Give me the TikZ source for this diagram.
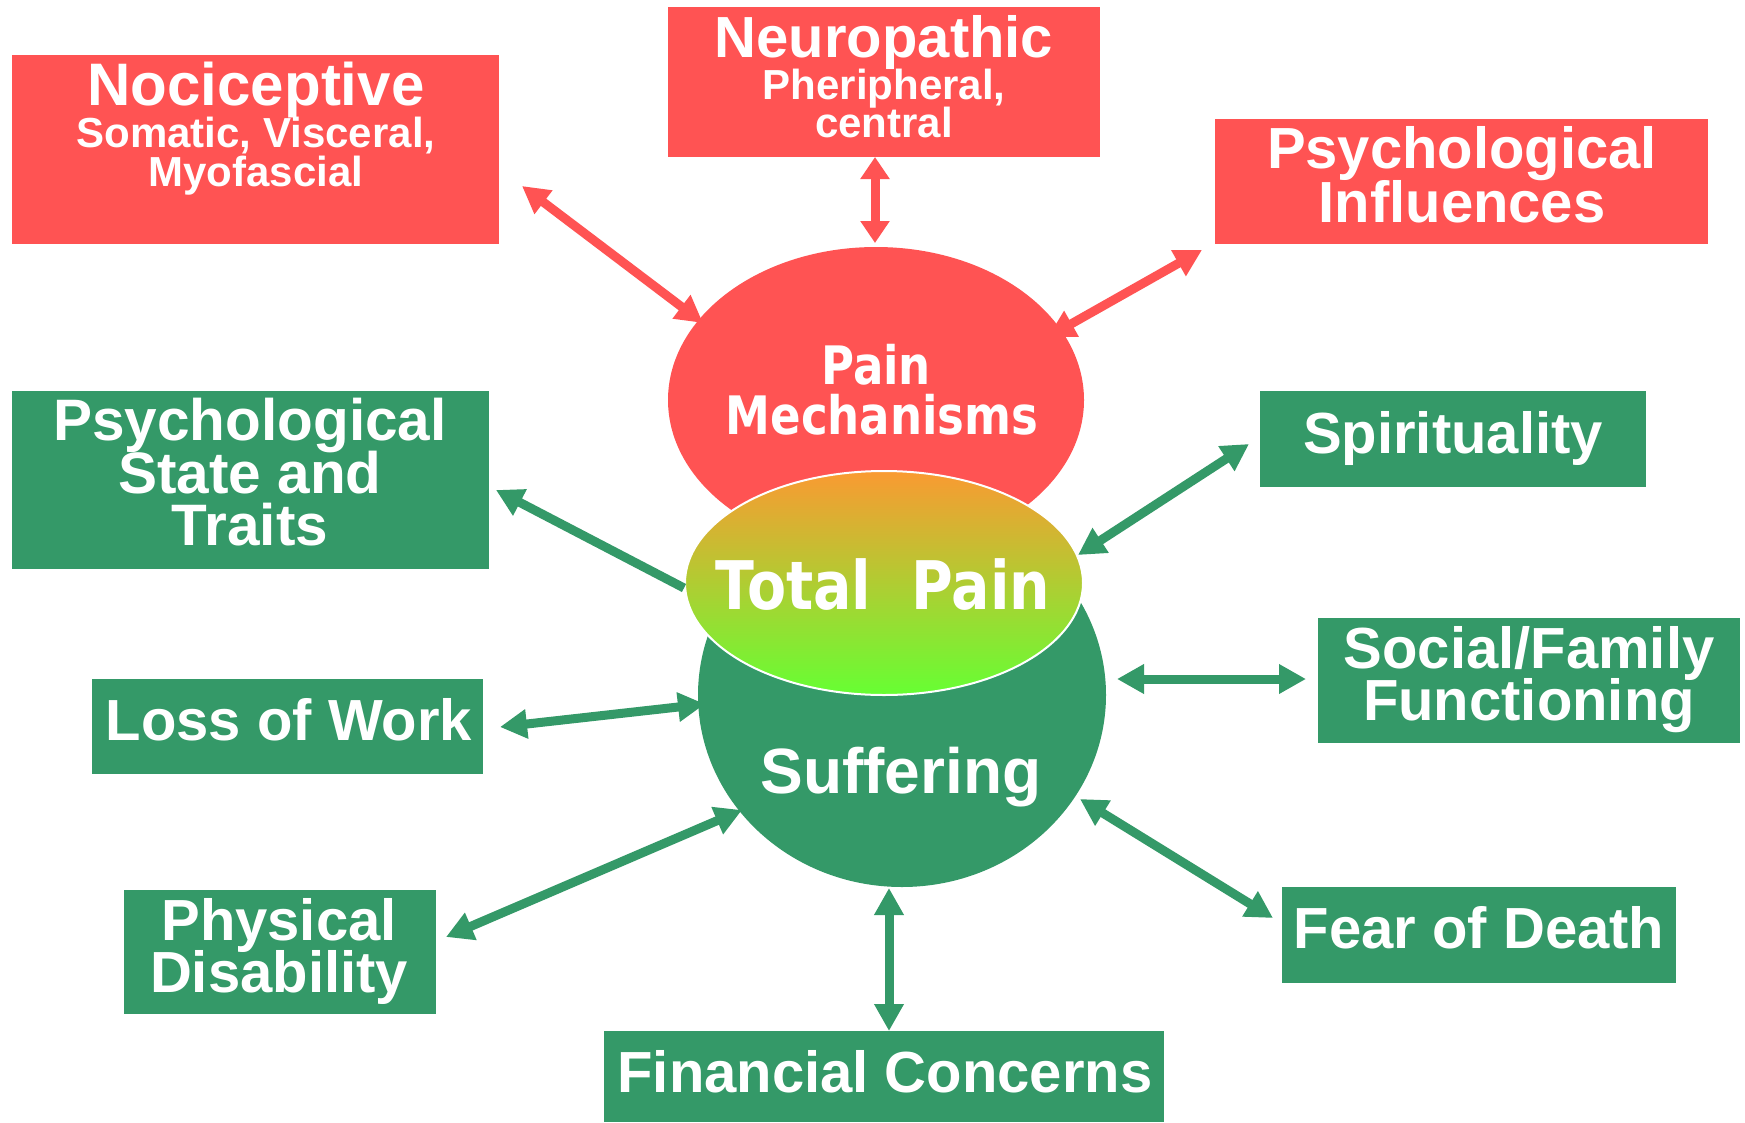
\documentclass[tikz,border=0pt]{standalone}
\usepackage{fontspec}
\usetikzlibrary{arrows.meta,shapes.geometric}
\newfontfamily\arb{Liberation Sans}
\newfontfamily\tah{DejaVu Sans}[FakeStretch=0.85]
\newcommand\pxsize[1]{\fontsize{#1}{#1}\selectfont}
\definecolor{pred}{RGB}{255,83,83}
\definecolor{pgreen}{RGB}{52,153,104}
\definecolor{porange}{RGB}{250,154,50}
\definecolor{pmid}{RGB}{212,196,50}
\definecolor{plime}{RGB}{102,255,51}
\begin{document}
\begin{tikzpicture}[x=1pt,y=-1pt,
  redbox/.style={fill=pred,draw=none,inner sep=0pt,rectangle},
  greenbox/.style={fill=pgreen,draw=none,inner sep=0pt,rectangle},
  lbl/.style={anchor=base,text=white,inner sep=0pt},
  rarrow/.style={draw=pred,line width=9pt,{Triangle[length=27pt,width=28pt]}-{Triangle[length=27pt,width=28pt]}},
  garrow/.style={draw=pgreen,line width=9pt,{Triangle[length=27pt,width=28pt]}-{Triangle[length=27pt,width=28pt]}},
  garrowone/.style={draw=pgreen,line width=9pt,-{Triangle[length=27pt,width=28pt]}}]
\fill[white] (0,0) rectangle (1745,1122);
\useasboundingbox (0,0) rectangle (1745,1122);

% ellipses
\node[ellipse,fill=pred,inner sep=0pt,minimum width=416pt,minimum height=306pt] (pm) at (876,400) {};
\node[ellipse,fill=pgreen,inner sep=0pt,minimum width=408pt,minimum height=384pt] (suf) at (902,695) {};
\node[ellipse,top color=porange,middle color=pmid,bottom color=plime,draw=white,line width=2pt,inner sep=0pt,minimum width=398pt,minimum height=224pt] (tp) at (884,583) {};

% boxes
\node[redbox,minimum width=487pt,minimum height=189pt] (noci) at (255.5,149.5) {};
\node[redbox,minimum width=432pt,minimum height=150pt] (neuro) at (884,82) {};
\node[redbox,minimum width=493pt,minimum height=125pt] (psyi) at (1461.5,181.5) {};
\node[greenbox,minimum width=477pt,minimum height=178pt] (psys) at (250.5,480) {};
\node[greenbox,minimum width=391pt,minimum height=95pt] (loss) at (287.5,726.5) {};
\node[greenbox,minimum width=312pt,minimum height=124pt] (phys) at (280,952) {};
\node[greenbox,minimum width=560pt,minimum height=91pt] (fin) at (884,1076.5) {};
\node[greenbox,minimum width=394pt,minimum height=96pt] (fear) at (1479,935) {};
\node[greenbox,minimum width=422pt,minimum height=125pt] (soc) at (1529,680.5) {};
\node[greenbox,minimum width=386pt,minimum height=96pt] (spir) at (1453,439) {};

% texts
\node[lbl,font={\arb\bfseries\pxsize{60}}] (nocit1) at (256,105) {Nociceptive};
\node[lbl,font={\arb\bfseries\pxsize{42}}] (nocit2) at (256,147) {Somatic, Visceral,};
\node[lbl,font={\arb\bfseries\pxsize{42}}] (nocit3) at (256,186) {Myofascial};
\node[lbl,font={\arb\bfseries\pxsize{58}}] (neurot1) at (884,57) {Neuropathic};
\node[lbl,font={\arb\bfseries\pxsize{42}}] (neurot2) at (884,99) {Pheripheral,};
\node[lbl,font={\arb\bfseries\pxsize{42}}] (neurot3) at (884,137) {central};
\node[lbl,font={\arb\bfseries\pxsize{58}}] (psyit1) at (1462,168) {Psychological};
\node[lbl,font={\arb\bfseries\pxsize{58}}] (psyit2) at (1462,222) {Influences};
\node[lbl,font={\arb\bfseries\pxsize{58.5}}] (psyst1) at (250,440) {Psychological};
\node[lbl,font={\arb\bfseries\pxsize{58.5}}] (psyst2) at (250,493) {State and};
\node[lbl,font={\arb\bfseries\pxsize{58.5}}] (psyst3) at (250,545) {Traits};
\node[lbl,font={\arb\bfseries\pxsize{58}}] (losst) at (289,740) {Loss of Work};
\node[lbl,font={\arb\bfseries\pxsize{58}}] (physt1) at (279,940) {Physical};
\node[lbl,font={\arb\bfseries\pxsize{58}}] (physt2) at (279,992) {Disability};
\node[lbl,font={\arb\bfseries\pxsize{58}}] (fint) at (885,1092) {Financial Concerns};
\node[lbl,font={\arb\bfseries\pxsize{58}}] (feart) at (1479,948) {Fear of Death};
\node[lbl,font={\arb\bfseries\pxsize{58}}] (soct1) at (1529,668) {Social/Family};
\node[lbl,font={\arb\bfseries\pxsize{58}}] (soct2) at (1529,720) {Functioning};
\node[lbl,font={\arb\bfseries\pxsize{58}}] (spirt) at (1453,453) {Spirituality};
\node[lbl,font={\tah\bfseries\pxsize{53}}] (pmt1) at (876,384) {Pain};
\node[lbl,font={\tah\bfseries\pxsize{53}}] (pmt2) at (882,434) {Mechanisms};
\node[lbl,font={\tah\bfseries\pxsize{67}}] (tpt) at (883,609) {Total\hspace{0.6em}Pain};
\node[lbl,font={\arb\bfseries\pxsize{64}}] (suft) at (901,793) {Suffering};

% connector end points
\coordinate (a1) at (522,186);  \coordinate (a2) at (703,323);
\coordinate (b1) at (875,157);  \coordinate (b2) at (875,243);
\coordinate (c1) at (1048,337); \coordinate (c2) at (1202,250);
\coordinate (d1) at (684,588);  \coordinate (d2) at (496,490);
\coordinate (e1) at (1078,555); \coordinate (e2) at (1249,444);
\coordinate (f1) at (1117,679); \coordinate (f2) at (1306,679);
\coordinate (g1) at (500,727);  \coordinate (g2) at (705,704);
\coordinate (h1) at (446,937);  \coordinate (h2) at (742,810);
\coordinate (i1) at (889,888);  \coordinate (i2) at (889,1031);
\coordinate (j1) at (1080,799); \coordinate (j2) at (1273,918);

\draw[rarrow] (a1) -- (a2);
\draw[draw=pred,line width=9pt,{Triangle[length=22pt,width=28pt]}-{Triangle[length=22pt,width=28pt]}] (b1) -- (b2);
\draw[rarrow] (c1) -- (c2);
\draw[garrowone] (d1) -- (d2);
\draw[garrow] (e1) -- (e2);
\draw[garrow] (f1) -- (f2);
\draw[garrow] (g1) -- (g2);
\draw[garrow] (h1) -- (h2);
\draw[garrow] (i1) -- (i2);
\draw[garrow] (j1) -- (j2);
\end{tikzpicture}
\end{document}
